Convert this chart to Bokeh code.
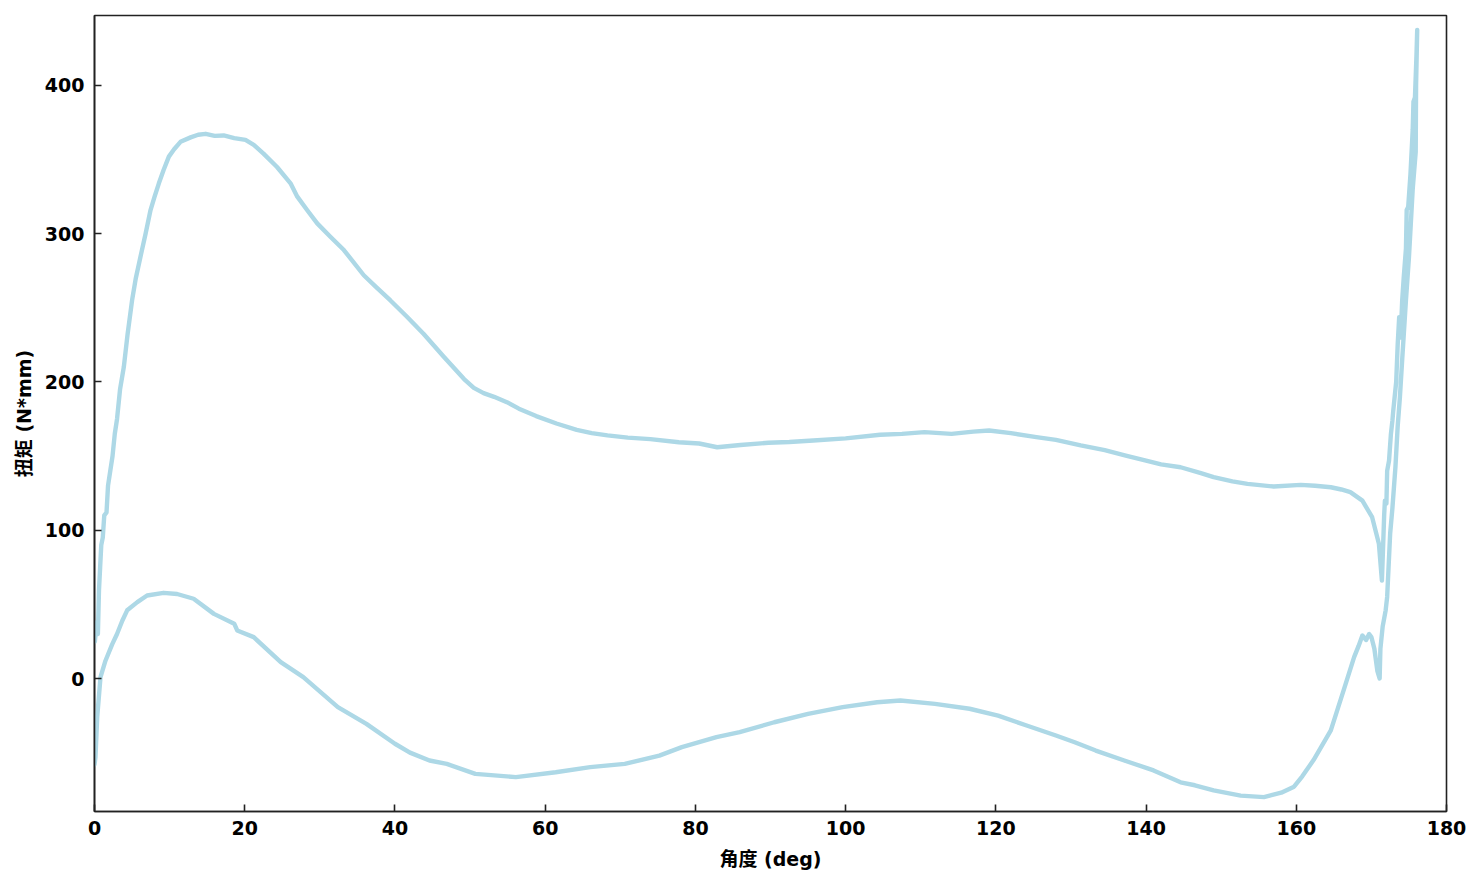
from bokeh.plotting import figure
from bokeh.models import FixedTicker, Range1d
from bokeh.embed import file_html
from bokeh.resources import INLINE

# loading branch (upper curve), angle in deg, torque in N*mm
upper_x = [0.05, 0.3, 0.45, 0.6, 0.75, 0.9, 1.1, 1.3, 1.6, 1.8, 2.1, 2.4, 2.7, 3.0, 3.4, 3.9,
           4.4, 5.0, 5.5, 6.1, 6.8, 7.46, 8.0, 8.57, 9.2, 9.9, 10.6, 11.45, 12.8, 13.8, 14.8,
           16.0, 17.2, 18.6, 20.1, 21.2, 22.5, 24.3, 26.1, 27.0, 28.3, 29.65, 31.4, 33.2,
           35.85, 37.5, 39.4, 41.6, 43.8, 46.5, 49.2, 50.5, 51.8, 53.2, 54.9, 56.5, 58.8,
           61.5, 64.2, 66.2, 68.3, 71.0, 74.0, 77.8, 80.5, 82.9, 86.0, 89.7, 92.5, 95.7,
           100.0, 104.6, 107.5, 110.5, 114.1, 117.0, 119.1, 122.0, 125.4, 128.0, 131.3,
           134.5, 137.3, 140.0, 142.0, 144.6, 147.3, 149.0, 151.5, 153.5, 157.0, 160.6,
           162.5, 164.6, 166.0, 167.2, 168.8, 170.1, 171.0, 171.4]
upper_y = [25, 38, 30, 60, 75, 90, 95, 110, 112, 130, 140, 150, 165, 175, 195, 210,
           232, 255, 270, 284, 300, 316, 325, 334, 343, 352, 357, 362, 365, 366.8, 367.4,
           366, 366.3, 364.5, 363.3, 360, 354, 345, 334, 325, 316, 307, 298, 289,
           272, 264, 255, 244, 232.5, 217, 202, 196, 192.5, 190, 186.4, 182, 177,
           172, 167.7, 165.5, 164, 162.5, 161.5, 159.4, 158.5, 156, 157.5, 159, 159.5, 160.5,
           162, 164.4, 165, 166.2, 165, 166.5, 167.3, 165.5, 162.8, 161, 157.2,
           154, 150.4, 147, 144.4, 142.5, 138.5, 135.8, 133, 131.3, 129.5, 130.6,
           130, 129, 127.5, 125.7, 120, 108.8, 90.9, 66]

# steep rise to the maximum
rise_x = [171.6, 171.7, 171.8, 172.0, 172.1, 172.35, 172.6, 172.8, 172.9, 173.1, 173.3,
          173.5, 173.7, 173.9, 174.1, 174.3, 174.6, 174.7, 174.9, 175.2, 175.5, 175.6,
          175.8, 176.0, 176.1]
rise_y = [95, 110, 120, 118, 140, 147, 165, 174, 180, 190, 200,
          225, 243.7, 230, 255, 270, 290, 316, 318, 340, 370, 389,
          392, 420, 437.5]

# steep fall back down
fall_x = [175.95, 175.9, 175.5, 175.0, 174.6, 174.1, 173.8, 173.5, 173.2, 172.8, 172.5,
          172.1, 171.9, 171.5, 171.2, 171.1]
fall_y = [400, 355, 330, 284, 255, 215, 190, 170, 142.5, 115, 97.8,
          55, 46, 35, 20, 0]

# unloading branch (lower curve), from the right end back to 0
lower_x = [170.8, 170.4, 170.0, 169.7, 169.3, 168.8, 168.3, 167.7, 166.3, 164.6, 162.3,
           160.8, 159.7, 158.0, 155.7, 152.6, 149.0, 146.5, 144.6, 141.0, 137.1, 133.3,
           130.5, 128.0, 124.1, 120.3, 116.5, 111.9, 107.3, 104.2, 99.6, 95.0, 90.5,
           85.9, 82.8, 78.2, 75.2, 70.6, 66.0, 61.4, 56.1, 50.7, 46.9, 44.6, 42.0, 40.0,
           36.2, 32.4, 27.8, 24.8, 21.2, 19.0, 18.6, 15.9, 13.2, 11.0, 9.2, 7.0, 5.7,
           4.35, 3.7, 3.0, 2.35, 1.46, 0.8, 0.36, 0.13, 0.0]
lower_y = [5, 20, 28, 30, 26, 29, 22, 14.4, -8, -35, -55,
           -66, -73, -77, -80, -79, -75.5, -72, -70, -62, -55.3, -48.6,
           -43, -38.4, -31.7, -25, -20.4, -17.1, -14.8, -16, -19.3, -23.8, -29.5,
           -36.2, -39.6, -46.3, -52, -57.6, -59.8, -63.2, -66.5, -64.3, -57.6, -55.3, -50, -44,
           -30.6, -19.3, 0.9, 11, 27.9, 32.4, 37, 43.6, 53.8, 57, 57.8, 56, 51.5,
           46, 39, 30, 23, 12, 1, -26, -53, -58]

x_ticks = [0, 20, 40, 60, 80, 100, 120, 140, 160, 180]
y_ticks = [0, 100, 200, 300, 400]
x_label = "角度 (deg)"
y_label = "扭矩 (N*mm)"

xs = upper_x + rise_x + fall_x + lower_x
ys = upper_y + rise_y + fall_y + lower_y

p = figure(width=1475, height=875, output_backend="svg", toolbar_location=None,
           x_range=Range1d(0, 180), y_range=Range1d(-89.7, 447.2),
           min_border_left=94, min_border_right=29, min_border_top=15, min_border_bottom=64)

p.line(xs, ys, line_color="#ADD8E6", line_width=4.4, line_join="round", line_cap="round")

p.grid.visible = False
p.background_fill_color = "white"
p.border_fill_color = "white"
p.outline_line_color = "#222222"
p.outline_line_width = 1.6

font = "DejaVu Sans, Noto Sans CJK SC"
for ax in (p.xaxis[0], p.yaxis[0]):
    ax.axis_line_color = "#222222"
    ax.axis_line_width = 1.6
    ax.major_tick_in = 7
    ax.major_tick_out = 0
    ax.major_tick_line_width = 1.6
    ax.major_tick_line_color = "#222222"
    ax.minor_tick_line_color = None
    ax.major_label_text_font = font
    ax.major_label_text_font_style = "bold"
    ax.major_label_text_font_size = "19px"
    ax.major_label_text_color = "black"
    ax.axis_label_text_font = font
    ax.axis_label_text_font_style = "bold"
    ax.axis_label_text_font_size = "19px"
    ax.axis_label_text_color = "black"

p.xaxis[0].ticker = FixedTicker(ticks=x_ticks)
p.yaxis[0].ticker = FixedTicker(ticks=y_ticks)
p.xaxis[0].axis_label = x_label
p.yaxis[0].axis_label = y_label
p.xaxis[0].major_label_standoff = 9
p.yaxis[0].major_label_standoff = 10
p.xaxis[0].axis_label_standoff = 10
p.yaxis[0].axis_label_standoff = 7

open("out.html", "w").write(file_html(p, INLINE))
